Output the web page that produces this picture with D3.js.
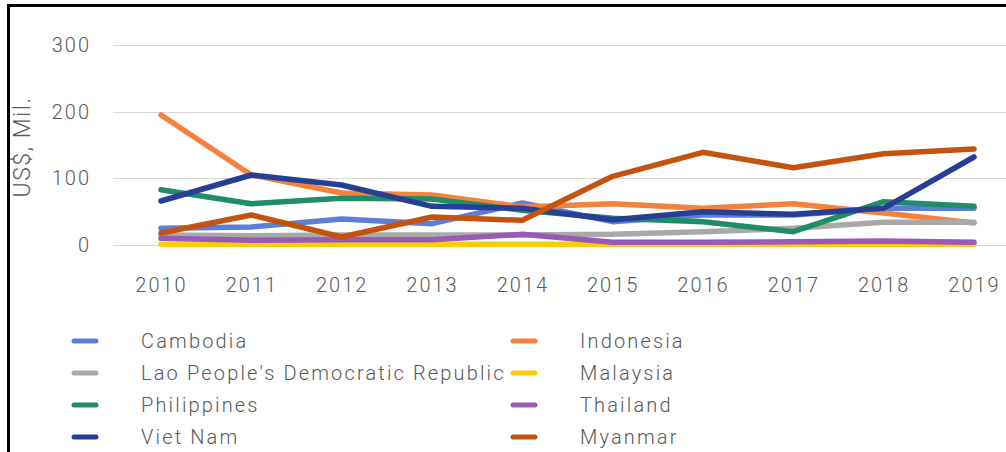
<!DOCTYPE html>
<html>
<head>
<meta charset="utf-8">
<script src="https://cdn.jsdelivr.net/npm/d3@7"></script>
<style>
  html, body { margin: 0; padding: 0; background: #fff; }
  svg { display: block; }
  text { font-family: Roboto, "Liberation Sans", sans-serif; font-weight: 300; fill: #595959; }
</style>
</head>
<body>
<svg id="chart" width="1006" height="452"></svg>
<script>
// Annual values, US$ million
const years = ["2010","2011","2012","2013","2014","2015","2016","2017","2018","2019"];
const cambodia    = [25, 27, 39, 32, 63, 35, 45, 45, 55, 55];
const indonesia   = [195, 105, 78, 75, 57, 62, 55, 62, 48, 33];
const lao         = [15, 14, 15, 15, 15, 16, 20, 25, 34, 34];
const malaysia    = [1, 1, 1, 1, 1, 1, 1, 1, 1, 1];
const philippines = [83, 62, 70, 69, 52, 40, 35, 20, 65, 58];
const thailand    = [10, 7, 8, 8, 16, 4, 4, 5, 6, 4];
const vietnam     = [66, 105, 90, 58, 55, 38, 50, 46, 55, 132];
const myanmar     = [18, 45, 12, 42, 37, 103, 139, 116, 137, 144];
const yTicks = [0, 100, 200, 300];

const series = [
  { name: "Cambodia", values: cambodia, color: "#5b7fd6" },
  { name: "Indonesia", values: indonesia, color: "#f4823c" },
  { name: "Lao People's Democratic Republic", values: lao, color: "#a9a9a9" },
  { name: "Malaysia", values: malaysia, color: "#f9cf00" },
  { name: "Philippines", values: philippines, color: "#1f8d68" },
  { name: "Thailand", values: thailand, color: "#9a58b8" },
  { name: "Viet Nam", values: vietnam, color: "#263f94" },
  { name: "Myanmar", values: myanmar, color: "#c4530f" }
];

const svg = d3.select("#chart");
const font = "Roboto, sans-serif";

// outer frame
svg.append("rect")
  .attr("x", 8.5).attr("y", 5.5)
  .attr("width", 1020).attr("height", 470)
  .attr("fill", "none").attr("stroke", "#000").attr("stroke-width", 3);

const x = d3.scalePoint().domain(years).range([161, 974]);
const y = d3.scaleLinear().domain([0, 300]).range([245, 45]);

// horizontal gridlines
svg.append("g").selectAll("line").data(yTicks).join("line")
  .attr("x1", 113).attr("x2", 1006)
  .attr("y1", d => Math.round(y(d)) + 0.5).attr("y2", d => Math.round(y(d)) + 0.5)
  .attr("stroke", "#d9d9d9").attr("stroke-width", 1);

// y axis labels
const yAxis = svg.append("g").attr("transform", "translate(91,0)")
  .call(d3.axisLeft(y).tickValues(yTicks).tickSize(0).tickPadding(0));
yAxis.select(".domain").remove();
yAxis.selectAll("text")
  .attr("font-size", 20).attr("letter-spacing", 2)
  .style("font-family", font).style("font-weight", 300).attr("fill", "#595959");

// x axis labels
const xAxis = svg.append("g").attr("transform", "translate(0,278)")
  .call(d3.axisBottom(x).tickSize(0).tickPadding(0));
xAxis.select(".domain").remove();
xAxis.selectAll("text")
  .attr("font-size", 20).attr("letter-spacing", 2)
  .style("font-family", font).style("font-weight", 300).attr("fill", "#595959");

// y axis title
svg.append("text")
  .attr("transform", "translate(30,147) rotate(-90)")
  .attr("text-anchor", "middle")
  .attr("font-size", 23).attr("letter-spacing", 1.5)
  .text("US$, Mil.");

// series lines
const line = d3.line()
  .x((d, i) => x(years[i]))
  .y(d => y(d));

svg.append("g").selectAll("path").data(series).join("path")
  .attr("d", d => line(d.values))
  .attr("fill", "none")
  .attr("stroke", d => d.color)
  .attr("stroke-width", 5.5)
  .attr("stroke-linejoin", "round")
  .attr("stroke-linecap", "round");

// legend: two columns, filled row by row
const legend = svg.append("g");
const rowY = [341, 373, 405, 437];
const colSwatch = [74, 513];
const colText = [141, 580];
series.forEach((s, i) => {
  const col = i % 2, row = Math.floor(i / 2);
  const g = legend.append("g");
  g.append("line")
    .attr("x1", colSwatch[col]).attr("x2", colSwatch[col] + 22)
    .attr("y1", rowY[row]).attr("y2", rowY[row])
    .attr("stroke", s.color).attr("stroke-width", 5)
    .attr("stroke-linecap", "round");
  g.append("text")
    .attr("x", colText[col]).attr("y", rowY[row])
    .attr("dy", "0.35em")
    .attr("font-size", 20).attr("letter-spacing", 2.15)
    .text(s.name);
});
</script>
</body>
</html>
